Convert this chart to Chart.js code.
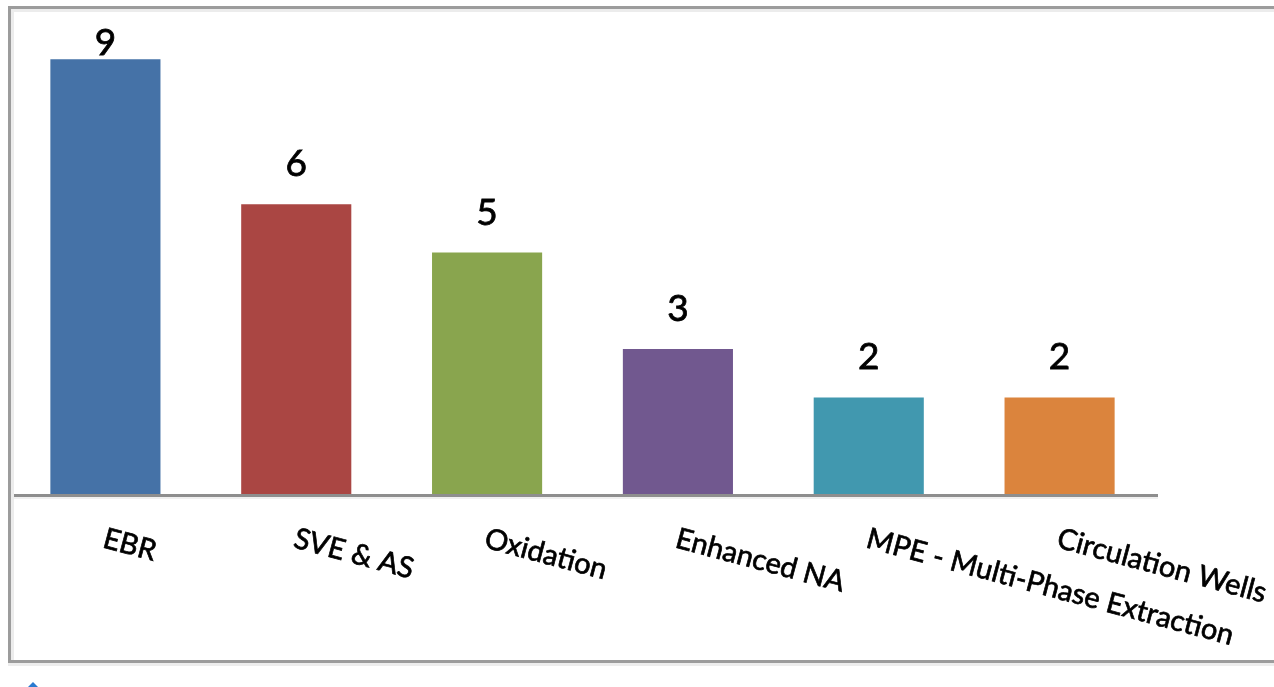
<!DOCTYPE html>
<html>
<head>
<meta charset="utf-8">
<script src="https://cdn.jsdelivr.net/npm/chart.js@4"></script>
<style>
  html, body { margin: 0; padding: 0; background: #fff; overflow: hidden; }
  #wrap { position: relative; width: 1274px; height: 687px; }
  #frame {
    position: absolute; left: 8px; top: 6px; width: 1300px; height: 651px;
    border: 3px solid #9c9c9c; border-right: none;
    box-shadow: inset 3px 3px 0 #ececec, 0 3px 0 #ededed;
    pointer-events: none;
  }
  #caret {
    position: absolute; left: 28px; top: 682px; width: 0; height: 0;
    border-left: 5px solid transparent; border-right: 5px solid transparent;
    border-bottom: 5px solid #2a7bd0;
  }
  canvas { position: absolute; left: 0; top: 0; }
</style>
</head>
<body>
<div id="wrap">
  <canvas id="chart" width="1274" height="687"></canvas>
  <div id="frame"></div>
  <div id="caret"></div>
</div>
<script>
// data
const categories = ['EBR', 'SVE & AS', 'Oxidation', 'Enhanced NA', 'MPE - Multi-Phase Extraction', 'Circulation Wells'];
const counts = [9, 6, 5, 3, 2, 2];
const barColors = ['#4572A7', '#AA4643', '#89A54E', '#71588F', '#4198AF', '#DB843D'];
const yMax = 10;

const fontFamily = 'Lato, "Noto Sans", sans-serif';

// axis line, value labels and slanted category labels
const labelsPlugin = {
  id: 'labels',
  afterDatasetsDraw(chart) {
    const ctx = chart.ctx;
    const area = chart.chartArea;
    const xScale = chart.scales.x;
    const bars = chart.getDatasetMeta(0).data;
    ctx.save();

    // x axis line
    ctx.fillStyle = '#8e8e8e';
    ctx.fillRect(area.left, area.bottom, xScale.right + 3 - area.left, 3);
    ctx.fillStyle = '#f0f0f0';
    ctx.fillRect(area.left, area.bottom + 3, xScale.right + 3 - area.left, 2);

    // values above bars (a thin stroke makes the glyphs a bit heavier)
    ctx.fillStyle = '#000';
    ctx.strokeStyle = '#000';
    ctx.lineWidth = 0.8;
    ctx.font = '37px ' + fontFamily;
    ctx.textAlign = 'center';
    ctx.textBaseline = 'alphabetic';
    bars.forEach((bar, i) => {
      const y = Math.max(bar.y - 28, area.top + 44);
      ctx.fillText(String(counts[i]), bar.x, y);
      ctx.strokeText(String(counts[i]), bar.x, y);
    });

    // category labels, rotated clockwise
    ctx.font = '29px ' + fontFamily;
    ctx.textAlign = 'left';
    ctx.lineWidth = 0.7;
    categories.forEach((cat, i) => {
      const x = xScale.getPixelForValue(i);
      ctx.save();
      ctx.translate(x - 4, area.bottom + 53);
      ctx.rotate(15 * Math.PI / 180);
      ctx.fillText(cat, 0, 0);
      ctx.strokeText(cat, 0, 0);
      ctx.restore();
    });
    ctx.restore();
  }
};

new Chart(document.getElementById('chart').getContext('2d'), {
  type: 'bar',
  data: {
    labels: categories,
    datasets: [{
      data: counts,
      backgroundColor: barColors,
      borderWidth: 0,
      categoryPercentage: 1,
      barPercentage: 0.577
    }]
  },
  options: {
    responsive: false,
    animation: false,
    layout: { padding: { left: 10, right: 119, top: 11, bottom: 193 } },
    scales: {
      x: { display: false },
      y: { display: false, min: 0, max: yMax }
    },
    plugins: {
      legend: { display: false },
      tooltip: { enabled: false }
    }
  },
  plugins: [labelsPlugin]
});
</script>
</body>
</html>
